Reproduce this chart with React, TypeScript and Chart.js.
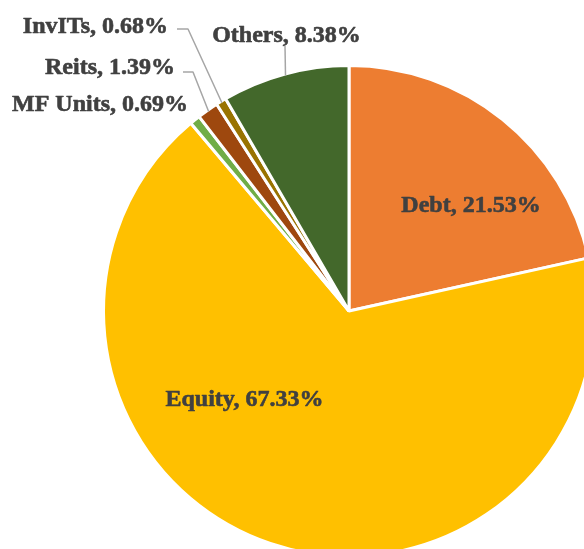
import React, { useEffect, useRef } from "react";
import { Chart, registerables } from "chart.js";

Chart.register(...registerables);

const categories = ["Debt", "Equity", "MF Units", "Reits", "InvITs", "Others"];
const shares = [21.53, 67.33, 0.69, 1.39, 0.68, 8.38];
const colors = ["#ED7D31", "#FFC000", "#70AD47", "#9E480E", "#997300", "#43682B"];

// label placement: offsets (px) from the pie centre; leader = elbow points before the arc edge
type LabelPos = { dx: number; dy: number; align: CanvasTextAlign; leader?: number[][] };
const labelLayout: LabelPos[] = [
  { dx: 122, dy: -99, align: "center" },
  { dx: -104.5, dy: 95, align: "center" },
  { dx: -161, dy: -200, align: "right" },
  { dx: -174, dy: -237, align: "right", leader: [[-166, -239], [-156, -239]] },
  { dx: -181, dy: -278, align: "right", leader: [[-172, -282], [-161, -282]] },
  { dx: -62.5, dy: -269, align: "center", leader: [[-64, -265]] },
];

const labelPlugin = {
  id: "pieLabels",
  afterDatasetsDraw(chart: any) {
    const ctx = chart.ctx as CanvasRenderingContext2D;
    const meta = chart.getDatasetMeta(0);
    ctx.save();
    meta.data.forEach((arc: any, i: number) => {
      const { x, y, startAngle, endAngle, outerRadius } = arc.getProps(
        ["x", "y", "startAngle", "endAngle", "outerRadius"],
        true
      );
      const lay = labelLayout[i];
      if (lay.leader) {
        const mid = (startAngle + endAngle) / 2;
        const ex = x + Math.cos(mid) * (outerRadius - 1.5);
        const ey = y + Math.sin(mid) * (outerRadius - 1.5);
        ctx.beginPath();
        ctx.strokeStyle = "#A6A6A6";
        ctx.lineWidth = 1.5;
        lay.leader.forEach((p, k) => {
          if (k === 0) ctx.moveTo(x + p[0], y + p[1]);
          else ctx.lineTo(x + p[0], y + p[1]);
        });
        ctx.lineTo(ex, ey);
        ctx.stroke();
      }
      const text = `${categories[i]}, ${shares[i].toFixed(2)}%`;
      ctx.font = 'bold 24px "Liberation Serif", "Times New Roman", serif';
      ctx.fillStyle = "#404040";
      ctx.strokeStyle = "#404040";
      ctx.lineWidth = 0.6;
      ctx.lineJoin = "round";
      ctx.textAlign = lay.align;
      ctx.textBaseline = "alphabetic";
      ctx.fillText(text, x + lay.dx, y + lay.dy);
      ctx.strokeText(text, x + lay.dx, y + lay.dy);
    });
    ctx.restore();
  },
};

export default function App() {
  const ref = useRef<HTMLCanvasElement | null>(null);
  useEffect(() => {
    if (!ref.current) return;
    const chart = new Chart(ref.current, {
      type: "pie",
      data: {
        labels: categories,
        datasets: [
          {
            data: shares,
            backgroundColor: colors,
            borderColor: "#FFFFFF",
            borderWidth: 3,
          },
        ],
      },
      options: {
        responsive: false,
        animation: false,
        devicePixelRatio: 1,
        layout: { padding: { left: 102, right: 102, top: 64, bottom: 64 } },
        plugins: {
          legend: { display: false },
          tooltip: { enabled: false },
        },
      },
      plugins: [labelPlugin],
    });
    return () => chart.destroy();
  }, []);
  return (
    <div
      style={{
        position: "fixed",
        left: 0,
        top: 0,
        width: 584,
        height: 549,
        overflow: "hidden",
        background: "#FFFFFF",
      }}
    >
      <canvas ref={ref} width={698} height={622} style={{ display: "block" }} />
    </div>
  );
}
